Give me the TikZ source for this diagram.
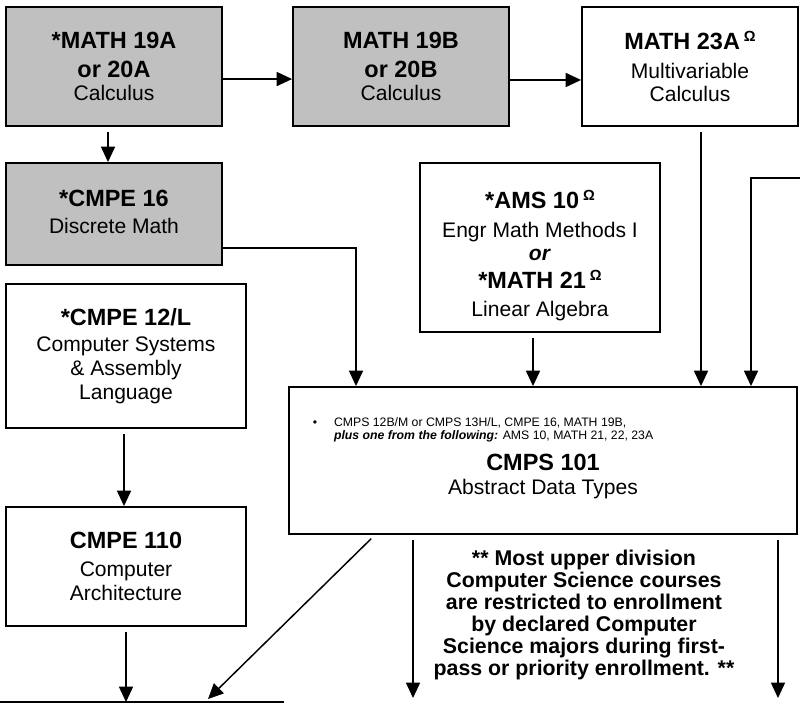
\documentclass[tikz,border=0pt]{standalone}
\usepackage{fontspec}
\setmainfont{Liberation Sans}
\usetikzlibrary{arrows.meta}

\newcommand{\crs}[1]{{\bfseries\fontsize{17.6pt}{18pt}\selectfont #1}}
\newcommand{\omg}{\,\raisebox{6pt}{\fontsize{11pt}{11pt}\selectfont Ω}}

\begin{document}
\begin{tikzpicture}[x=0.75pt,y=0.75pt,yscale=-1,xscale=1,
  box/.style={draw, line width=1.4pt, align=center, inner sep=2pt,
    font=\fontsize{15.8pt}{18pt}\selectfont},
  greybox/.style={box, fill={rgb, 255:red, 192; green, 192; blue, 192}},
  arr/.style={line width=1.1pt, -{Triangle[length=11.5pt,width=10.5pt]}, shorten <=4pt}]
\useasboundingbox (0,0) rectangle (800,704);

%Shape: Rectangle (first row)
\node [greybox, minimum width=162pt, minimum height=89.25pt] (m19a) at (114,66.5)
  {\crs{*MATH 19A}\\[4pt] \crs{or 20A}\\[-0.75pt] Calculus};
\node [greybox, minimum width=162pt, minimum height=89.25pt] (m19b) at (401,66.5)
  {\crs{MATH 19B}\\[4pt] \crs{or 20B}\\[-0.75pt] Calculus};
\node [box, minimum width=162pt, minimum height=89.25pt] (m23a) at (690,66.5)
  {\crs{MATH 23A\omg}\\[4pt] Multivariable\\[-1pt] Calculus};

%Shape: Rectangle (left column)
\node [greybox, minimum width=162pt, minimum height=76.5pt] (e16) at (114,214)
  {\crs{*CMPE 16}\\[2.25pt] Discrete Math\\[-14.5pt] \mbox{}};
\node [box, minimum width=180pt, minimum height=108pt] (e12) at (126,356)
  {\crs{*CMPE 12/L}\\[1.5pt] Computer Systems\\ \& Assembly\\ Language};
\node [box, minimum width=180pt, minimum height=89.25pt] (e110) at (126,566.5)
  {\crs{CMPE 110}\\[2.5pt] Computer\\ Architecture};

%Shape: Rectangle (middle)
\node [box, minimum width=180pt, minimum height=126.75pt] (ams) at (540,247.5)
  {\mbox{}\\[7.5pt] \crs{*AMS 10\omg}\\[3.75pt] Engr Math Methods I\\[-0.75pt]
   \textbf{\textit{or}}\\[3pt] \crs{*MATH 21\omg}\\[3pt] Linear Algebra};
\node [box, minimum width=381pt, minimum height=110.25pt] (cmps) at (543,460.5)
  {\hspace*{-90pt}{\fontsize{9.2pt}{9.75pt}\selectfont\begin{tabular}{@{}l@{\hspace{12.75pt}}l@{}}
   \textbullet & CMPS 12B/M or CMPS 13H/L, CMPE 16, MATH 19B,\\
   & \textbf{\textit{plus one from the following:}} AMS 10, MATH 21, 22, 23A
   \end{tabular}}\\[6.5pt]
   \crs{CMPS 101}\\[0.25pt] Abstract Data Types\\[-11.5pt] \mbox{}};

% Text Node
\node [align=center, font=\bfseries\fontsize{16pt}{16.5pt}\selectfont] (note) at (584,615)
  {** Most upper division\\ Computer Science courses\\ are restricted to enrollment\\
   by declared Computer\\ Science majors during first-\\ pass or priority enrollment. **};

% free ends
\coordinate (hop) at (356,0);
\coordinate (rin) at (800,178);
\coordinate (rx) at (751,0);
\coordinate (bl) at (0,702);
\coordinate (br) at (284,702);
\coordinate (dtip) at (208,699);
\coordinate (o1) at (413,698);
\coordinate (o2) at (778,698);
\coordinate (a1) at ([xshift=-5.25pt]ams.south);
\coordinate (a2) at ([xshift=8.25pt]m23a.south);
\coordinate (a3) at ([xshift=-1.5pt]e12.south);
\coordinate (a4) at ([xshift=-126pt]cmps.south);

%Straight Lines
\draw [arr, shorten <=0pt] ([yshift=9.4pt]m19a.east) -- ([yshift=9.4pt]m19b.west);
\draw [arr, shorten <=0pt] ([yshift=10.1pt]m19b.east) -- ([yshift=10.1pt]m23a.west);
\draw [arr] ([xshift=-4.5pt]m19a.south) -- ([xshift=-4.5pt]e16.north);
\draw [arr, shorten <=0pt] ([yshift=25.5pt]e16.east) -| (hop |- cmps.north);
\draw [arr] (a1) -- (a1 |- cmps.north);
\draw [arr] (a2) -- (a2 |- cmps.north);
\draw [arr, shorten <=0pt] (rin) -| (rx |- cmps.north);
\draw [arr] (a3) -- (a3 |- e110.north);
\draw [arr] (e110.south) -- (e110.south |- bl);
\draw [line width=1.4pt] (bl) -- (br);
\draw [arr] (a4) -- (dtip);
\draw [arr] (cmps.south -| o1) -- (o1);
\draw [arr] (cmps.south -| o2) -- (o2);

\end{tikzpicture}
\end{document}
